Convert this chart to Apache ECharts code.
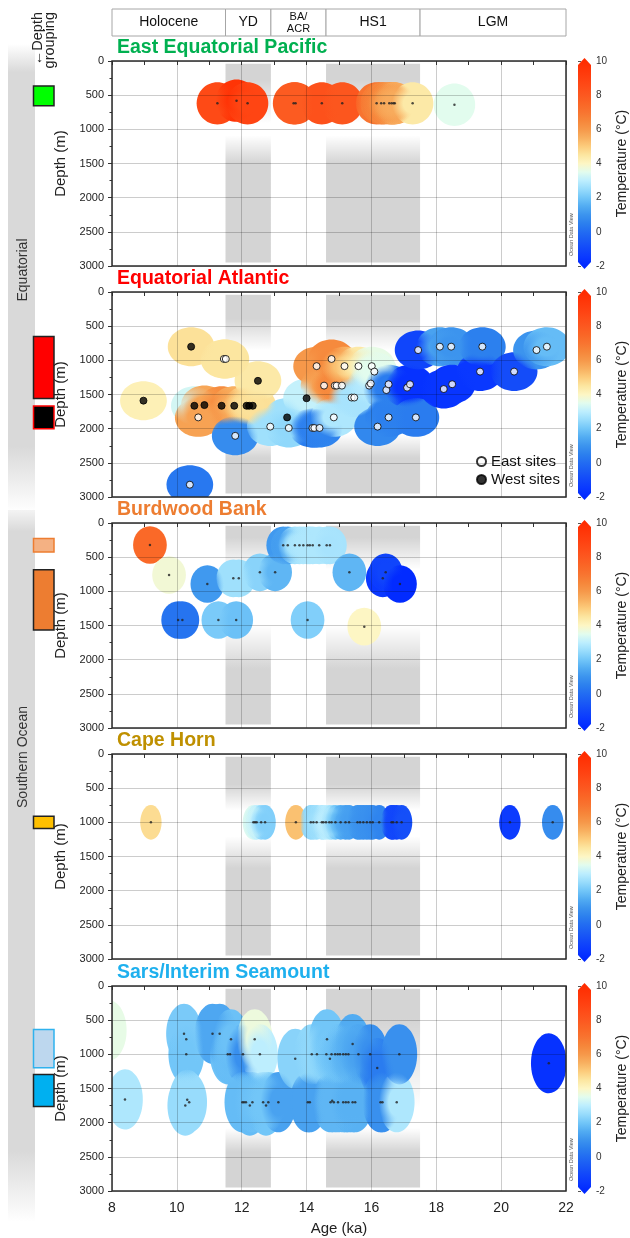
<!DOCTYPE html>
<html><head><meta charset="utf-8">
<script src="https://cdn.jsdelivr.net/npm/echarts@6/dist/echarts.min.js"></script>
<style>html,body{margin:0;padding:0;background:#fff}#c{width:630px;height:1238px}</style>
</head><body><div id="c"></div>
<script>
// ---------------- DATA ----------------
const panelNames = ['East Equatorial Pacific','Equatorial Atlantic','Burdwood Bank','Cape Horn','Sars/Interim Seamount'];
const periodName  = ['Holocene','YD','BA/\nACR','HS1','LGM'];
const periodStart = [8, 11.5, 12.9, 14.6, 17.5];
const periodEnd   = [11.5, 12.9, 14.6, 17.5, 22];
const bandStart = [11.5, 14.6];
const bandEnd   = [12.9, 17.5];

// East Equatorial Pacific
const eepAge   = [11.25,11.84,12.18,13.6,13.66,14.47,15.1,16.16,16.3,16.39,16.55,16.62,16.68,16.72,17.27,18.56];
const eepDepth = [620,580,620,620,620,620,620,620,620,620,620,620,620,620,620,640];
const eepTemp  = [8.6,9.6,8.8,7.9,7.9,8.3,8.1,7.0,6.6,6.3,6.0,6.0,5.8,5.6,4.4,3.5];

// Equatorial Atlantic (W = west sites, E = east sites)
const eaAge = [8.97,10.44,10.54,10.85,11.38,11.77,12.15,12.23,12.34,12.5,13.4,14.0,
  10.4,10.66,11.45,11.51,11.8,12.88,13.45,14.18,14.24,14.4,14.31,14.54,14.77,14.87,14.93,15.09,14.84,15.17,15.39,15.47,
  15.6,15.93,15.98,16.01,16.09,16.19,16.46,16.53,16.53,17.1,17.19,17.37,17.44,18.11,18.46,18.23,18.49,19.35,19.42,20.4,21.09,21.41];
const eaDepth = [1590,800,1665,1655,1665,1665,1665,1665,1665,1300,1835,1555,
  2820,1835,980,980,2105,1970,1990,1990,1990,1990,1085,1370,980,1370,1370,1370,1835,1085,1545,1545,
  1085,1370,1340,1085,1165,1970,1435,1350,1835,1400,1350,1835,850,800,800,1420,1350,1165,800,1165,850,800];
const eaTemp = [4.2,4.6,3.3,5.7,6.3,5.5,4.8,4.7,4.6,4.4,2.6,3.1,
  0.3,5.8,4.5,4.5,0.8,2.6,2.4,0.5,0.4,0.6,6.0,5.8,6.4,6.5,6.5,6.3,2.8,5.2,2.7,2.7,
  4.4,2.8,2.9,3.6,3.5,0.7,0.6,0.4,0.5,-1.7,-1.7,0.4,-1.1,1.3,1.0,-1.6,-1.6,-1.5,0.5,-0.9,1.0,1.8];
const eaSite = ['W','W','W','W','W','W','W','W','W','W','W','W',
  'E','E','E','E','E','E','E','E','E','E','E','E','E','E','E','E','E','E','E','E',
  'E','E','E','E','E','E','E','E','E','E','E','E','E','E','E','E','E','E','E','E','E','E'];

// Burdwood Bank
const bbAge   = [9.17,9.76,10.04,10.17,10.94,11.28,11.74,11.91,11.83,12.56,13.03,
  13.28,13.42,13.64,13.78,13.9,14.03,14.1,14.19,14.39,14.62,14.72,
  14.03,15.32,15.78,16.35,16.44,16.88];
const bbDepth = [322,761,1420,1420,893,1420,810,810,1420,722,722,
  327,327,327,327,327,327,327,327,327,327,327,
  1420,722,1517,810,722,893];
const bbTemp  = [7.4,3.8,0.2,0.2,1.1,2.1,2.6,2.6,1.9,2.3,1.7,
  1.1,1.3,2.6,2.7,2.8,2.8,2.8,2.8,2.8,2.8,2.7,
  2.2,1.7,4.0,-1.5,-1.1,-1.9];

// Cape Horn
const chAge   = [9.2,12.36,12.41,12.46,12.6,12.72,13.67,14.13,14.21,14.31,14.47,14.52,14.6,14.7,14.77,14.89,
  15.05,15.2,15.31,15.57,15.65,15.75,15.86,15.96,16.04,16.24,16.62,16.67,16.78,16.93,20.27,21.59];
const chDepth = [1000,1000,1000,1000,1000,1000,1000,1000,1000,1000,1000,1000,1000,1000,1000,1000,
  1000,1000,1000,1000,1000,1000,1000,1000,1000,1000,1000,1000,1000,1000,1000,1000];
const chTemp  = [4.7,3.4,3.3,3.0,2.4,2.2,5.2,2.4,2.5,2.6,2.8,2.9,3.0,2.9,2.6,2.0,
  1.5,1.3,1.2,1.0,1.0,0.9,0.9,0.9,0.8,0.6,-1.0,-1.0,-1.1,-0.8,-1.4,0.8];

// Sars/Interim Seamount
const sisAge = [7.9,8.4,
  10.22,10.29,10.29,10.26,10.32,10.38,
  11.1,11.32,11.57,11.64,11.67,12.04,12.4,12.56,
  12.02,12.07,12.13,12.25,12.33,12.66,12.75,12.82,13.13,
  13.65,14.04,14.1,14.16,14.32,14.61,14.63,14.72,
  14.74,14.79,14.84,14.97,15.13,15.21,15.29,15.42,15.5,
  14.77,14.88,14.96,15.03,15.13,15.21,15.29,15.42,15.6,15.96,
  16.18,16.28,16.34,16.78,16.86,21.47];
const sisDepth = [650,1660,
  700,780,1000,1750,1665,1700,
  700,700,1000,1000,780,1000,780,1000,
  1700,1700,1700,1750,1700,1700,1750,1700,1700,
  1065,1700,1700,1000,1000,1000,780,1065,
  1700,1680,1700,1700,1700,1700,1700,1700,1700,
  1000,1000,1000,1000,1000,1000,1000,850,1000,1000,
  1200,1700,1700,1700,1000,1130];
const sisTemp = [3.6,2.8,
  2.1,2.1,2.0,2.5,2.5,2.5,
  1.4,1.4,1.9,1.8,1.9,0.9,3.7,3.0,
  1.8,1.8,1.8,1.8,1.9,2.0,2.0,2.0,1.3,
  2.3,1.3,1.3,2.4,2.4,2.2,2.0,2.2,
  1.7,1.7,1.7,1.7,1.7,1.7,1.6,1.6,1.6,
  2.0,2.0,1.9,1.9,1.8,1.7,1.6,1.5,1.3,0.9,
  0.4,0.9,0.9,2.8,0.9,-1.7];

// Depth groupings (panel index, top depth, bottom depth)
const groupPanel  = [0, 1, 1, 2, 2, 3, 4, 4];
const groupTop    = [365, 650, 1670, 225, 685, 910, 635, 1295];
const groupBottom = [655, 1560, 2000, 425, 1565, 1090, 1195, 1765];

// ---------------- STYLE ----------------
const FF = "'Liberation Sans', Arial, Helvetica, sans-serif";
const tops = [61, 292, 523, 754, 986];
const H = 205, L = 112, W = 454;
const titleColors = ['#00b050','#ff0000','#ed7d31','#bf9000','#1eb0ee'];
const groupFill   = ['#00ff00','#ff0000','#000000','#f4b183','#ed7d31','#ffc000','#bdd7ee','#00b0f0'];
const groupStroke = ['#222','#222','#ff0000','#ed7d31','#222','#222','#2fb2ee','#222'];
const blobRx = [0.64, 0.72, 0.52, 0.33, 0.55];
const blobRy = [310, 285, 275, 255, 440];
const bandFade = [
  [[0,1],[0.08,1],[0.3,0],[0.36,0],[0.5,1],[1,1]],
  [[0,1],[0.12,1],[0.28,0],[0.7,0],[0.82,1],[1,1]],
  [[0,1],[0.06,1],[0.22,0],[0.5,0],[0.72,1],[1,1]],
  [[0,1],[0.14,1],[0.27,0],[0.4,0],[0.56,1],[1,1]],
  [[0,1],[0.15,1],[0.6,0],[0.7,0],[0.82,1],[1,1]]
];
const tempColors = ['#0028ff','#0a38ff','#1248fa','#1a5af5','#226cf2','#2c80ee','#3c94ee','#52acf2','#72c6f8','#98dcfc','#bdeefe','#e2fcee','#fdf6c4','#fce6a0','#fccc7c','#f8b060','#f6984a','#f6863a','#f87430','#fa6626','#fc5820','#fe4c18','#ff4010','#ff3608','#ff2c00'];

const panels = [
  {age: eepAge, depth: eepDepth, temp: eepTemp},
  {age: eaAge, depth: eaDepth, temp: eaTemp},
  {age: bbAge, depth: bbDepth, temp: bbTemp},
  {age: chAge, depth: chDepth, temp: chTemp},
  {age: sisAge, depth: sisDepth, temp: sisTemp}
];

// ---------------- BUILD ----------------
const grids = [], xAxes = [], yAxes = [], series = [], blobIdx = [], graphic = [];
const tickStyle = {color:'#333', width:1};

function bandFill(stops){
  return {type:'linear', x:0, y:0, x2:0, y2:1,
    colorStops: stops.map(s => ({offset:s[0], color:'rgba(0,0,0,' + (0.17*s[1]).toFixed(3) + ')'}))};
}

for (let i = 0; i < 5; i++) {
  grids.push({left:L, top:tops[i], width:W, height:H, show:true, borderColor:'#2b2b2b', borderWidth:1.5, backgroundColor:'transparent', z:10});
  xAxes.push({gridIndex:i, type:'value', min:8, max:22, interval:2, z:5,
    axisLine:{show:false},
    axisTick:{show:true, length:4, lineStyle:tickStyle},
    minorTick:{show:true, splitNumber:2, length:4, lineStyle:tickStyle},
    splitLine:{show:true, lineStyle:{color:'rgba(0,0,0,0.2)', width:1}},
    axisLabel:{show:i===4, fontSize:14, color:'#222', margin:10, fontFamily:FF},
    name: i===4 ? 'Age (ka)' : '', nameLocation:'middle', nameGap:30,
    nameTextStyle:{fontSize:15, color:'#222', fontFamily:FF}});
  yAxes.push({gridIndex:i, type:'value', inverse:true, min:0, max:3000, interval:500, z:5,
    axisLine:{show:false},
    axisTick:{show:true, length:4, lineStyle:tickStyle},
    minorTick:{show:true, splitNumber:2, length:2.5, lineStyle:tickStyle},
    splitLine:{show:true, lineStyle:{color:'rgba(0,0,0,0.2)', width:1}},
    axisLabel:{fontSize:11, color:'#222', margin:8, fontFamily:FF, formatter: v => String(v)},
    name:'Depth (m)', nameLocation:'middle', nameGap:27, nameRotate:90,
    nameTextStyle:{fontSize:15, color:'#222', fontFamily:FF}});

  // gray event bands
  const fade = bandFade[i];
  series.push({type:'custom', xAxisIndex:i, yAxisIndex:i, z:1, silent:true, clip:true,
    data: bandStart.map((s,k) => [s, bandEnd[k]]),
    renderItem: (params, api) => {
      const a = api.coord([api.value(0), 40]);
      const b = api.coord([api.value(1), 2950]);
      return {type:'rect', shape:{x:a[0], y:Math.min(a[1],b[1]), width:b[0]-a[0], height:Math.abs(b[1]-a[1])},
        style:{fill: bandFill(fade)}};
    }});

  // temperature blobs: solid outline pass + soft blending pass
  const P = panels[i], rx = blobRx[i], ry = blobRy[i];
  const blobData = P.age.map((a,k) => [a, P.depth[k], P.temp[k]]);
  blobIdx.push(series.length);
  series.push({type:'custom', xAxisIndex:i, yAxisIndex:i, z:2, silent:true, clip:true,
    dimensions:['age','depth','temp'], encode:{x:0, y:1}, data: blobData,
    renderItem: (params, api) => {
      const c = api.coord([api.value(0), api.value(1)]);
      const s = api.size([rx, ry]);
      return {type:'ellipse', shape:{cx:c[0], cy:c[1], rx:s[0], ry:s[1]}, style:{fill: api.visual('color')}};
    }});
  blobIdx.push(series.length);
  series.push({type:'custom', xAxisIndex:i, yAxisIndex:i, z:3, silent:true, clip:true,
    dimensions:['age','depth','temp'], encode:{x:0, y:1}, data: blobData,
    renderItem: (params, api) => {
      const c = api.coord([api.value(0), api.value(1)]);
      const s = api.size([rx, ry]);
      const col = api.visual('color');
      return {type:'circle', x:c[0], y:c[1], scaleY: s[1]/s[0], shape:{cx:0, cy:0, r:s[0]},
        style:{fill:{type:'radial', x:0.5, y:0.5, r:0.5, colorStops:[
          {offset:0, color:col}, {offset:0.45, color:col},
          {offset:1, color:echarts.color.modifyAlpha(col, 0)}]}}};
    }});

  // sample points
  if (i === 1) {
    series.push({type:'scatter', name:'East sites', xAxisIndex:i, yAxisIndex:i, z:6, symbolSize:7,
      itemStyle:{color:'#ffffff', borderColor:'#000', borderWidth:1},
      data: eaAge.map((a,k) => eaSite[k]==='E' ? [a, eaDepth[k]] : null).filter(d => d)});
    series.push({type:'scatter', name:'West sites', xAxisIndex:i, yAxisIndex:i, z:6, symbolSize:7,
      itemStyle:{color:'#000000', borderColor:'#000', borderWidth:1},
      data: eaAge.map((a,k) => eaSite[k]==='W' ? [a, eaDepth[k]] : null).filter(d => d)});
  } else {
    series.push({type:'scatter', xAxisIndex:i, yAxisIndex:i, z:6, symbolSize:2.5, silent:true,
      itemStyle:{color:'#222'}, data: P.age.map((a,k) => [a, P.depth[k]])});
  }

  // titles
  graphic.push({type:'text', x:117, y:tops[i]-13, z:20,
    style:{text:panelNames[i], fill:titleColors[i], fontSize:19.5, fontWeight:'bold', fontFamily:FF,
      align:'left', verticalAlign:'middle', textAlign:'left', textVerticalAlign:'middle'}});
  // ODV label
  graphic.push({type:'text', x:571, y:tops[i]+H-10, rotation:Math.PI/2, z:20,
    style:{text:'Ocean Data View', fill:'#555', fontSize:5.5, fontFamily:FF,
      align:'left', verticalAlign:'middle', textAlign:'left', textVerticalAlign:'middle'}});
}

// colour bars
const cbStops = tempColors.map((c,k) => ({offset: 1 - k/(tempColors.length-1), color:c})).reverse();
for (let i = 0; i < 5; i++) {
  const gi = 5 + i;
  grids.push({left:578, top:tops[i], width:13, height:H});
  xAxes.push({gridIndex:gi, type:'value', min:0, max:1, show:false});
  yAxes.push({gridIndex:gi, type:'value', position:'right', min:-2, max:10, interval:2,
    axisLine:{show:false}, splitLine:{show:false},
    axisTick:{show:true, length:3, lineStyle:{color:'#555'}},
    axisLabel:{fontSize:10, color:'#333', margin:5, fontFamily:FF},
    name:'Temperature (°C)', nameLocation:'middle', nameRotate:90, nameGap:24,
    nameTextStyle:{fontSize:14, color:'#222', fontFamily:FF}});
  series.push({type:'custom', xAxisIndex:gi, yAxisIndex:gi, silent:true, z:2,
    data:[[0.5, 4]],
    renderItem: (params, api) => {
      const cs = params.coordSys;
      const yT = api.coord([0.5, 10])[1], yB = api.coord([0.5, -2])[1];
      const x0 = cs.x, x1 = cs.x + cs.width, xm = (x0 + x1)/2;
      return {type:'polygon',
        shape:{points:[[x0,yT+4],[xm,yT-3],[x1,yT+4],[x1,yB-4],[xm,yB+3],[x0,yB-4]]},
        style:{fill:{type:'linear', x:0, y:yT, x2:0, y2:yB, global:true, colorStops:cbStops}}};
    }});
}

// depth grouping boxes
for (let i = 0; i < 5; i++) {
  const gi = 10 + i;
  grids.push({left:33.5, top:tops[i], width:20.5, height:H});
  xAxes.push({gridIndex:gi, type:'value', min:0, max:1, show:false});
  yAxes.push({gridIndex:gi, type:'value', inverse:true, min:0, max:3000, show:false});
  const idx = groupPanel.map((p,k) => p===i ? k : -1).filter(k => k >= 0);
  series.push({type:'custom', xAxisIndex:gi, yAxisIndex:gi, silent:true, z:3,
    data: idx.map(k => [k, groupTop[k], groupBottom[k]]),
    renderItem: (params, api) => {
      const k = api.value(0);
      const a = api.coord([0, api.value(1)]), b = api.coord([1, api.value(2)]);
      return {type:'rect', shape:{x:a[0], y:a[1], width:b[0]-a[0], height:b[1]-a[1]},
        style:{fill:groupFill[k], stroke:groupStroke[k], lineWidth:1.5}};
    }});
}

// header periods
grids.push({left:L, top:9, width:W, height:27});
xAxes.push({gridIndex:15, type:'value', min:8, max:22, show:false});
yAxes.push({gridIndex:15, type:'value', min:0, max:1, show:false});
series.push({type:'custom', xAxisIndex:15, yAxisIndex:15, silent:true,
  data: periodStart.map((s,k) => [s, periodEnd[k]]),
  renderItem: (params, api) => {
    const k = params.dataIndex;
    const a = api.coord([api.value(0), 1]), b = api.coord([api.value(1), 0]);
    const multi = periodName[k].indexOf('\n') >= 0;
    return {type:'group', children:[
      {type:'rect', shape:{x:a[0], y:a[1], width:b[0]-a[0], height:b[1]-a[1]}, style:{fill:'#fff', stroke:'#a6a6a6', lineWidth:1}},
      {type:'text', style:{text:periodName[k], x:(a[0]+b[0])/2, y:(a[1]+b[1])/2,
        align:'center', verticalAlign:'middle', textAlign:'center', textVerticalAlign:'middle',
        fontSize: multi ? 11 : 14, lineHeight: multi ? 12 : 16, fill:'#111', fontFamily:FF}}
    ]};
  }});

// left region bars
function regionFill(s0, s1, s2){
  return {type:'linear', x:0, y:0, x2:0, y2:1, colorStops:[
    {offset:0, color:'rgba(217,217,217,' + s0 + ')'}, {offset:s1, color:'#d9d9d9'},
    {offset:s2, color:'#d9d9d9'}, {offset:1, color:'rgba(217,217,217,0)'}]};
}
graphic.push({type:'rect', shape:{x:8, y:44, width:27, height:468}, z:0, style:{fill:regionFill(0, 0.06, 0.86)}});
graphic.push({type:'rect', shape:{x:8, y:510, width:27, height:712}, z:0, style:{fill:regionFill(0.3, 0.03, 0.9)}});
graphic.push({type:'text', x:23, y:270, rotation:Math.PI/2, z:5,
  style:{text:'Equatorial', fill:'#333', fontSize:14, fontFamily:FF, align:'center', verticalAlign:'middle', textAlign:'center', textVerticalAlign:'middle'}});
graphic.push({type:'text', x:23, y:757, rotation:Math.PI/2, z:5,
  style:{text:'Southern Ocean', fill:'#333', fontSize:14, fontFamily:FF, align:'center', verticalAlign:'middle', textAlign:'center', textVerticalAlign:'middle'}});
graphic.push({type:'text', x:44, y:12, rotation:Math.PI/2, z:5,
  style:{text:'\u2190Depth\ngrouping', fill:'#222', fontSize:14.5, lineHeight:12, fontFamily:FF, align:'right', verticalAlign:'middle', textAlign:'right', textVerticalAlign:'middle'}});

const option = {
  animation:false,
  backgroundColor:'#fff',
  textStyle:{fontFamily:FF},
  grid:grids, xAxis:xAxes, yAxis:yAxes, series:series,
  visualMap:{type:'continuous', show:false, min:-2, max:10, dimension:2, seriesIndex:blobIdx, inRange:{color:tempColors}},
  legend:{data:['East sites','West sites'], orient:'vertical', left:476, top:454, itemWidth:9, itemHeight:9, itemGap:3,
    icon:'circle', selectedMode:false, padding:0, textStyle:{fontSize:15, color:'#111', fontFamily:FF}},
  graphic:graphic
};
const chart = echarts.init(document.getElementById('c'), null, {renderer:'canvas'});
chart.setOption(option);
</script></body></html>
